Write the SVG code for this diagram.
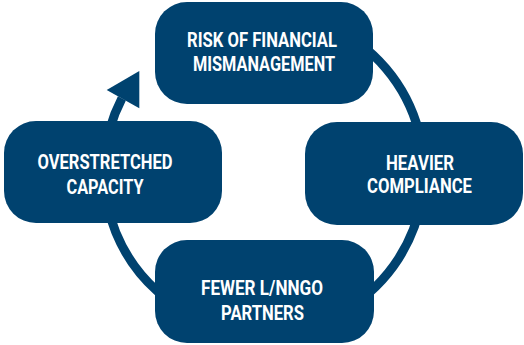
<svg xmlns="http://www.w3.org/2000/svg" width="524" height="345" viewBox="0 0 524 345">
<style>
.node{fill:#00426f}
.ring{fill:none;stroke:#00426f;stroke-width:9}
.lbl{font-family:"Roboto","Liberation Sans",sans-serif;font-weight:bold;font-size:21px;fill:#ffffff;text-anchor:middle}
</style>
<rect width="524" height="345" fill="#ffffff"/>
<g id="connectors">
<path class="ring" d="M264,12 A160,160 0 1 1 121.9,98.4"/>
<polygon fill="#00426f" points="106.7,90 139.3,71 139.3,108.3"/>
</g>
<g id="node-risk">
<rect class="node" x="155" y="2" width="218" height="102" rx="32"/>
<text class="lbl" x="262" y="47" textLength="150" lengthAdjust="spacingAndGlyphs">RISK OF FINANCIAL</text>
<text class="lbl" x="264" y="71" textLength="142" lengthAdjust="spacingAndGlyphs">MISMANAGEMENT</text>
</g>
<g id="node-compliance">
<rect class="node" x="305" y="122" width="218" height="103" rx="32"/>
<text class="lbl" x="420" y="169.5" textLength="68" lengthAdjust="spacingAndGlyphs">HEAVIER</text>
<text class="lbl" x="419.5" y="193" textLength="105" lengthAdjust="spacingAndGlyphs">COMPLIANCE</text>
</g>
<g id="node-partners">
<rect class="node" x="155" y="240" width="219" height="103" rx="32"/>
<text class="lbl" x="262" y="295" textLength="122" lengthAdjust="spacingAndGlyphs">FEWER L/NNGO</text>
<text class="lbl" x="262.5" y="319.5" textLength="83" lengthAdjust="spacingAndGlyphs">PARTNERS</text>
</g>
<g id="node-capacity">
<rect class="node" x="4" y="121" width="218" height="102" rx="32"/>
<text class="lbl" x="105" y="168.5" textLength="135" lengthAdjust="spacingAndGlyphs">OVERSTRETCHED</text>
<text class="lbl" x="105" y="193.5" textLength="77" lengthAdjust="spacingAndGlyphs">CAPACITY</text>
</g>
</svg>
